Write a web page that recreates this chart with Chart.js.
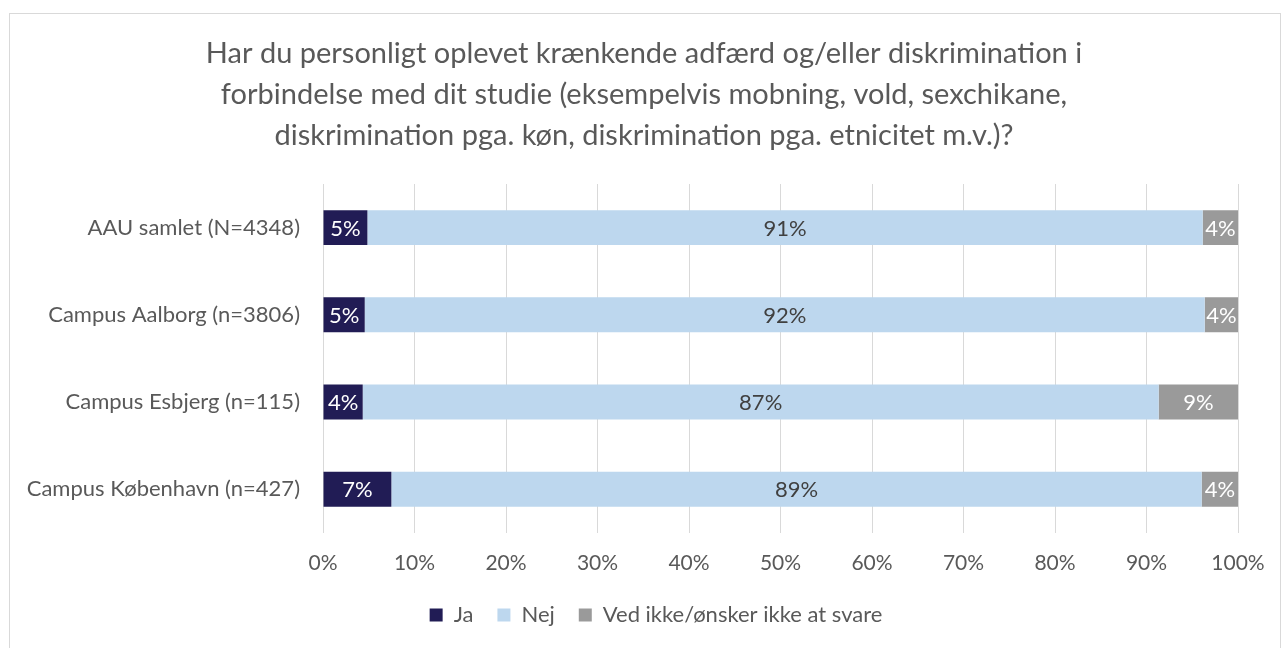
<!DOCTYPE html>
<html>
<head>
<meta charset="utf-8">
<script src="https://cdn.jsdelivr.net/npm/chart.js@4.4.1/dist/chart.umd.min.js"></script>
<style>
  html, body { margin: 0; padding: 0; background: #fff; overflow: hidden; }
  #wrap { position: relative; width: 1284px; height: 648px; }
  #frame { position: absolute; left: 9px; top: 13px; width: 1272px; height: 660px; border: 1px solid #d9d9d9; box-sizing: border-box; }
  canvas { position: absolute; left: 0; top: 0; }
</style>
</head>
<body>
<div id="wrap">
  <div id="frame"></div>
  <canvas id="chart" width="1284" height="648"></canvas>
</div>
<script>
// Données (en %)
const categories = ['AAU samlet (N=4348)', 'Campus Aalborg (n=3806)', 'Campus Esbjerg (n=115)', 'Campus København (n=427)'];
const seriesNames = ['Ja', 'Nej', 'Ved ikke/ønsker ikke at svare'];
const jaValues = [4.85, 4.56, 4.34, 7.47];
const nejValues = [91.29, 91.80, 86.99, 88.56];
const vedIkkeValues = [3.86, 3.64, 8.67, 3.97];
const titleLines = [
  'Har du personligt oplevet krænkende adfærd og/eller diskrimination i',
  'forbindelse med dit studie (eksempelvis mobning, vold, sexchikane,',
  'diskrimination pga. køn, diskrimination pga. etnicitet m.v.)?'
];

const FONT = 'Lato';
const TXT = '#595959';

// Étiquettes de valeur au centre de chaque segment
const valueLabels = {
  id: 'valueLabels',
  afterDatasetsDraw(chart) {
    const ctx = chart.ctx;
    const colors = ['#ffffff', '#404040', '#ffffff'];
    ctx.save();
    ctx.font = '22px ' + FONT;
    ctx.textAlign = 'center';
    ctx.textBaseline = 'middle';
    chart.data.datasets.forEach((ds, i) => {
      chart.getDatasetMeta(i).data.forEach((bar, j) => {
        const v = ds.data[j];
        ctx.fillStyle = colors[i];
        ctx.fillText(Math.round(v) + '%', (bar.x + bar.base) / 2, bar.y + 1);
      });
    });
    ctx.restore();
  }
};

// Recentre le titre et la légende comme dans l'original
const boxShift = {
  id: 'boxShift',
  afterLayout(chart) {
    if (chart.titleBlock) {
      chart.titleBlock.left += 20;
      chart.titleBlock.right += 20;
    }
    if (chart.legend) {
      chart.legend.left += 32;
      chart.legend.right += 32;
    }
  }
};

new Chart(document.getElementById('chart'), {
  type: 'bar',
  data: {
    labels: categories,
    datasets: [
      { label: seriesNames[0], data: jaValues, backgroundColor: '#211c55' },
      { label: seriesNames[1], data: nejValues, backgroundColor: '#bdd7ee' },
      { label: seriesNames[2], data: vedIkkeValues, backgroundColor: '#9a9a9a' }
    ]
  },
  options: {
    indexAxis: 'y',
    responsive: false,
    animation: false,
    categoryPercentage: 0.4,
    barPercentage: 1,
    layout: { padding: { left: 10, right: 46, top: 0, bottom: 12 } },
    plugins: {
      title: {
        display: true,
        text: titleLines,
        color: TXT,
        font: { family: FONT, size: 29, weight: 'normal', lineHeight: 1.414 },
        padding: { top: 33, bottom: 28 }
      },
      legend: {
        position: 'bottom',
        labels: {
          color: TXT,
          font: { family: FONT, size: 22 },
          boxWidth: 13,
          boxHeight: 13,
          padding: 24
        }
      },
      tooltip: { enabled: false }
    },
    scales: {
      x: {
        stacked: true,
        min: 0,
        max: 100,
        afterFit: s => { s.height = s.height - 14; },
        ticks: {
          stepSize: 10,
          color: TXT,
          font: { family: FONT, size: 21 },
          padding: 18,
          callback: v => v + '%'
        },
        grid: { color: '#d9d9d9', drawTicks: false },
        border: { display: false }
      },
      y: {
        stacked: true,
        afterFit: s => { s.width = 313; },
        ticks: {
          color: TXT,
          font: { family: FONT, size: 22 },
          padding: 15
        },
        grid: { display: false },
        border: { display: false }
      }
    }
  },
  plugins: [valueLabels, boxShift]
});
</script>
</body>
</html>
